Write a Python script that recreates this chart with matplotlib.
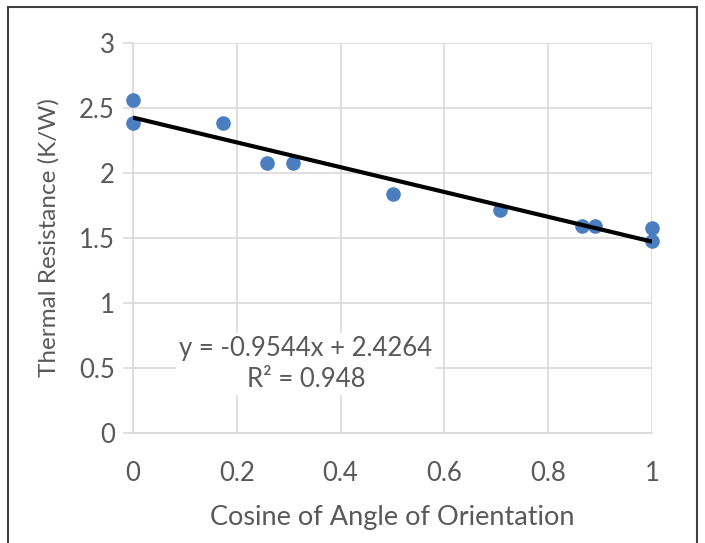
import matplotlib.pyplot as plt
from matplotlib.patches import Rectangle

plt.rcParams['font.family'] = ['Lato', 'DejaVu Sans']

# cosine of orientation angle vs measured thermal resistance
cos_angle = [0.0, 0.0, 0.174, 0.259, 0.309, 0.5, 0.707, 0.866, 0.891, 1.0, 1.0]
resistance = [2.56, 2.385, 2.385, 2.075, 2.075, 1.835, 1.715, 1.595, 1.595, 1.58, 1.48]

# linear trendline
slope = -0.9544
intercept = 2.4264
r_squared = 0.948

x_ticks = [0, 0.2, 0.4, 0.6, 0.8, 1]
y_ticks = [0, 0.5, 1, 1.5, 2, 2.5, 3]

grey = '#595959'
grid_col = '#D9D9D9'

fig = plt.figure(figsize=(7.05, 5.43), dpi=100)
ax = fig.add_axes([0.1887, 0.2026, 0.7361, 0.7182])

ax.set_xlim(0, 1)
ax.set_ylim(0, 3)
ax.set_xticks(x_ticks)
ax.set_yticks(y_ticks)
ax.set_xticklabels(['0', '0.2', '0.4', '0.6', '0.8', '1'])
ax.set_yticklabels(['0', '0.5', '1', '1.5', '2', '2.5', '3'])
ax.grid(True, color=grid_col, lw=1.2)
ax.set_axisbelow(True)
for side in ['top', 'right']:
    ax.spines[side].set_visible(False)
for side in ['left', 'bottom']:
    ax.spines[side].set_color(grid_col)
    ax.spines[side].set_linewidth(1.2)
ax.tick_params(axis='y', length=7, width=1.2, color=grid_col, labelcolor=grey,
               labelsize=18.5, pad=6)
ax.tick_params(axis='x', length=0, labelcolor=grey, labelsize=18.5, pad=20)

ax.scatter(cos_angle, resistance, s=90, color='#4A7EC0', zorder=3, clip_on=False)

xs = [0, 1]
ax.plot(xs, [intercept + slope * x for x in xs], color='black', lw=3, zorder=4,
        solid_capstyle='butt')

ax.text(0.333, 0.53, 'y = %.4fx + %.4f\nR² = %.3f' % (slope, intercept, r_squared),
        ha='center', va='center', fontsize=18.5, color=grey, linespacing=1.3,
        bbox=dict(facecolor='white', edgecolor='none', pad=2), zorder=5)

ax.set_xlabel('Cosine of Angle of Orientation', fontsize=19.5, color=grey, labelpad=14)
ax.set_ylabel('Thermal Resistance (K/W)', fontsize=17.5, color=grey, labelpad=14)

# chart frame
fig.patches.append(Rectangle((8 / 705, -0.05), 689 / 705, 1 - 7 / 543 + 0.05,
                             transform=fig.transFigure, fill=False,
                             edgecolor='#404040', lw=1.5))

fig.savefig('out.png', dpi=100)
